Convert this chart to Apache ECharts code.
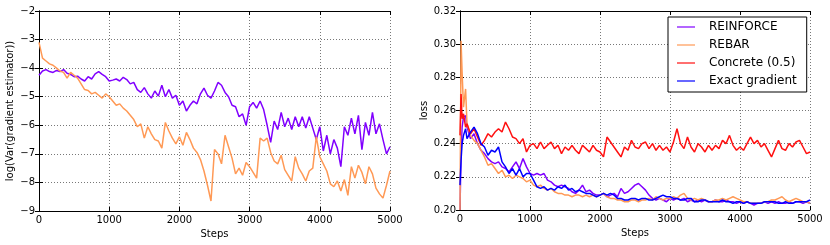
<!DOCTYPE html>
<html>
<head>
<meta charset="utf-8">
<script src="https://cdn.jsdelivr.net/npm/echarts@6/dist/echarts.min.js"></script>
<style>
html,body{margin:0;padding:0;background:#fff;}
#c{width:830px;height:245px;}
</style>
</head>
<body>
<div id="c"></div>
<script>
// ---------- Left panel: log variance of gradient estimator ----------
const stepsL = [0,50,100,150,200,250,300,350,400,450,500,550,600,650,700,750,800,850,900,950,
1000,1050,1100,1150,1200,1250,1300,1350,1400,1450,1500,1550,1600,1650,1700,1750,1800,1850,1900,1950,
2000,2050,2100,2150,2200,2250,2300,2350,2400,2450,2500,2550,2600,2650,2700,2750,2800,2850,2900,2950,
3000,3050,3100,3150,3200,3250,3300,3350,3400,3450,3500,3550,3600,3650,3700,3750,3800,3850,3900,3950,
4000,4050,4100,4150,4200,4250,4300,4350,4400,4450,4500,4550,4600,4650,4700,4750,4800,4850,4900,4950,5000];

const varReinforce = [-4.25,-4.1,-4.05,-4.12,-4.15,-4.08,-4.12,-4.05,-4.18,-4.22,-4.3,-4.28,-4.38,-4.45,-4.3,-4.38,-4.2,-4.12,-4.22,-4.3,
-4.45,-4.42,-4.38,-4.45,-4.32,-4.4,-4.55,-4.5,-4.75,-4.85,-4.68,-4.9,-5.05,-4.8,-4.98,-4.6,-5.0,-4.75,-5.05,-4.95,
-5.3,-5.15,-5.5,-5.3,-5.15,-5.25,-4.9,-4.7,-4.95,-5.05,-4.8,-4.5,-4.6,-4.85,-5.0,-5.3,-5.35,-5.7,-5.6,-6.0,
-5.35,-5.2,-5.4,-5.15,-5.45,-6.0,-6.6,-5.85,-6.15,-5.55,-6.05,-5.75,-6.15,-5.7,-6.05,-5.7,-6.1,-5.7,-6.1,-6.5,
-6.05,-6.9,-6.35,-7.0,-6.5,-6.8,-7.45,-6.05,-6.35,-5.75,-6.3,-5.65,-6.85,-5.9,-6.35,-5.55,-6.3,-5.95,-6.5,-7.0,-6.75];

const varRebar = [-3.1,-3.65,-3.75,-3.85,-3.9,-4.0,-4.1,-4.15,-4.35,-4.15,-4.25,-4.35,-4.55,-4.75,-4.78,-4.9,-4.85,-4.95,-5.05,-4.9,
-5.0,-5.15,-5.3,-5.25,-5.4,-5.5,-5.65,-5.8,-6.05,-5.95,-6.45,-6.05,-6.3,-6.5,-6.55,-6.8,-5.9,-6.2,-6.45,-6.65,
-6.4,-6.7,-6.25,-6.5,-6.8,-6.95,-7.2,-7.6,-8.1,-8.65,-6.85,-7.0,-7.35,-6.35,-6.75,-7.15,-7.7,-7.5,-7.75,-7.3,
-7.45,-7.65,-7.85,-6.45,-6.55,-6.45,-6.95,-7.25,-7.35,-7.05,-7.55,-7.75,-7.95,-7.1,-7.5,-7.7,-7.95,-7.6,-7.5,-6.4,
-7.1,-7.35,-7.6,-8.05,-8.15,-7.95,-8.3,-7.9,-8.45,-7.45,-7.85,-7.4,-7.65,-8.05,-7.45,-7.7,-8.2,-8.4,-8.55,-8.1,-7.6];

// ---------- Right panel: loss ----------
const stepsR = [0,15,30,50,80,100,150,200,250,300,350,400,450,500,550,600,650,700,750,800,850,900,950,
1000,1050,1100,1150,1200,1250,1300,1350,1400,1450,1500,1550,1600,1650,1700,1750,1800,1850,1900,1950,
2000,2050,2100,2150,2200,2250,2300,2350,2400,2450,2500,2550,2600,2650,2700,2750,2800,2850,2900,2950,
3000,3050,3100,3150,3200,3250,3300,3350,3400,3450,3500,3550,3600,3650,3700,3750,3800,3850,3900,3950,
4000,4050,4100,4150,4200,4250,4300,4350,4400,4450,4500,4550,4600,4650,4700,4750,4800,4850,4900,4950,5000];

const lossReinforce = [0.20,0.235,0.25,0.256,0.257,0.25,0.243,0.246,0.24,0.236,0.234,0.231,0.229,0.228,0.229,0.226,0.225,0.223,0.226,0.229,0.225,0.231,0.226,
0.222,0.221,0.222,0.221,0.222,0.218,0.217,0.215,0.214,0.215,0.214,0.213,0.211,0.21,0.212,0.215,0.211,0.212,0.21,0.209,
0.209,0.21,0.208,0.209,0.21,0.208,0.213,0.21,0.211,0.213,0.215,0.216,0.214,0.212,0.209,0.207,0.206,0.207,0.206,0.205,
0.207,0.206,0.207,0.206,0.207,0.205,0.206,0.205,0.206,0.205,0.206,0.205,0.205,0.206,0.205,0.205,0.206,0.205,0.205,0.204,
0.205,0.204,0.205,0.204,0.203,0.204,0.204,0.205,0.204,0.205,0.204,0.205,0.204,0.204,0.205,0.204,0.205,0.205,0.204,0.205,0.204];

const lossRebar = [0.20,0.302,0.283,0.262,0.273,0.252,0.245,0.242,0.24,0.236,0.232,0.227,0.228,0.225,0.222,0.224,0.22,0.221,0.219,0.221,0.22,0.219,0.217,
0.218,0.215,0.214,0.215,0.213,0.212,0.213,0.211,0.21,0.21,0.209,0.209,0.208,0.209,0.209,0.208,0.209,0.208,0.209,0.208,
0.209,0.21,0.208,0.207,0.207,0.206,0.206,0.205,0.205,0.206,0.206,0.205,0.206,0.206,0.207,0.206,0.208,0.207,0.206,0.207,
0.207,0.208,0.207,0.209,0.21,0.207,0.206,0.207,0.206,0.207,0.206,0.205,0.205,0.206,0.206,0.207,0.206,0.207,0.208,0.207,
0.206,0.205,0.205,0.204,0.204,0.204,0.204,0.205,0.205,0.206,0.206,0.207,0.208,0.206,0.205,0.206,0.207,0.206,0.205,0.205,0.204];

const lossConcrete = [0.245,0.27,0.255,0.258,0.25,0.252,0.246,0.249,0.244,0.239,0.242,0.246,0.244,0.247,0.249,0.247,0.253,0.249,0.244,0.243,0.24,0.243,0.235,
0.239,0.24,0.237,0.241,0.237,0.239,0.241,0.237,0.239,0.234,0.238,0.236,0.239,0.236,0.234,0.239,0.237,0.235,0.239,0.236,
0.235,0.232,0.244,0.241,0.238,0.235,0.232,0.238,0.236,0.242,0.238,0.237,0.24,0.241,0.237,0.24,0.236,0.239,0.236,0.238,
0.235,0.241,0.249,0.24,0.237,0.244,0.238,0.235,0.24,0.238,0.235,0.239,0.236,0.239,0.237,0.242,0.24,0.245,0.239,0.236,
0.238,0.236,0.24,0.244,0.24,0.242,0.238,0.24,0.236,0.232,0.237,0.242,0.237,0.236,0.24,0.238,0.241,0.242,0.238,0.234,0.235];

const lossExact = [0.215,0.23,0.24,0.245,0.249,0.243,0.247,0.25,0.246,0.24,0.238,0.233,0.236,0.235,0.238,0.229,0.226,0.222,0.225,0.221,0.225,0.22,0.222,
0.222,0.218,0.214,0.213,0.214,0.212,0.213,0.212,0.214,0.213,0.215,0.212,0.213,0.211,0.212,0.211,0.21,0.21,0.209,0.208,
0.209,0.21,0.209,0.21,0.209,0.207,0.207,0.206,0.206,0.207,0.207,0.206,0.207,0.207,0.206,0.206,0.207,0.208,0.209,0.208,
0.208,0.207,0.207,0.206,0.206,0.207,0.207,0.205,0.205,0.206,0.206,0.205,0.205,0.205,0.205,0.206,0.205,0.205,0.204,0.205,
0.205,0.204,0.205,0.204,0.204,0.204,0.204,0.205,0.205,0.205,0.205,0.204,0.204,0.205,0.204,0.204,0.205,0.205,0.205,0.205,0.206];

const seriesNames = ['REINFORCE','REBAR','Concrete (0.5)','Exact gradient'];
const colors = ['#8000ff','#ff9955','#ff1010','#0000ff'];

const FONT = 'DejaVu Sans';
const pair = (xs, ys) => ys.map((v, i) => [xs[i], v]);
const minus = v => (v < 0 ? '\u2212' + Math.abs(v) : String(v));

function axesFor(gridIndex, ymin, ymax, yint, yfmt, yname, ynameGap) {
  const base = {
    gridIndex, type: 'value',
    axisLine: {show: true, lineStyle: {color: '#000', width: 1}},
    axisTick: {show: true, inside: true, length: 4, lineStyle: {color: '#000'}},
  };
  const xs = [
    Object.assign({}, base, {
      min: 0, max: 5000, interval: 1000, position: 'bottom',
      name: 'Steps', nameLocation: 'middle', nameGap: 16,
      nameTextStyle: {fontFamily: FONT, fontSize: 10, color: '#000'},
      axisLabel: {fontFamily: FONT, fontSize: 10, color: '#000', margin: 4, formatter: v => String(v)},
      splitLine: {show: true, lineStyle: {color: '#555', type: [1, 2], width: 0.8}}
    }),
    Object.assign({}, base, {
      min: 0, max: 5000, interval: 1000, position: 'top',
      axisLabel: {show: false}, splitLine: {show: false}
    })
  ];
  const ys = [
    Object.assign({}, base, {
      min: ymin, max: ymax, interval: yint, position: 'left',
      name: yname, nameLocation: 'middle', nameGap: ynameGap, nameRotate: 90,
      nameTextStyle: {fontFamily: FONT, fontSize: 10, color: '#000'},
      axisLabel: {fontFamily: FONT, fontSize: 10, color: '#000', margin: 4, formatter: yfmt},
      splitLine: {show: true, lineStyle: {color: '#555', type: [1, 2], width: 0.8}}
    }),
    Object.assign({}, base, {
      min: ymin, max: ymax, interval: yint, position: 'right',
      axisLabel: {show: false}, splitLine: {show: false}
    })
  ];
  return {xs, ys};
}

const A = axesFor(0, -9, -2, 1, minus, 'log(Var(gradient estimator))', 24);
const B = axesFor(1, 0.20, 0.32, 0.02, v => v.toFixed(2), 'loss', 31);

function line(name, data, color, xi, yi) {
  return {
    name, type: 'line', data, xAxisIndex: xi, yAxisIndex: yi,
    showSymbol: false, symbol: 'none', smooth: false,
    lineStyle: {color, width: 1.5}, itemStyle: {color},
    animation: false, clip: true
  };
}

const option = {
  animation: false,
  backgroundColor: '#fff',
  grid: [
    {left: 39, top: 11, width: 351, height: 200, show: false},
    {left: 460, top: 11, width: 350, height: 199, show: false}
  ],
  xAxis: [...A.xs, ...B.xs],
  yAxis: [...A.ys, ...B.ys],
  legend: {
    data: seriesNames,
    orient: 'vertical', left: 668, top: 17,
    icon: 'rect', itemWidth: 18, itemHeight: 1.2, itemGap: 4,
    padding: [3, 10, 4, 9],
    borderColor: '#000', borderWidth: 1, borderRadius: 0, backgroundColor: '#fff',
    textStyle: {fontFamily: FONT, fontSize: 12, color: '#000', lineHeight: 14, padding: [0, 0, 0, 9]}
  },
  series: [
    line('REINFORCE', pair(stepsL, varReinforce), colors[0], 0, 0),
    line('REBAR', pair(stepsL, varRebar), colors[1], 0, 0),
    line('REINFORCE', pair(stepsR, lossReinforce), colors[0], 2, 2),
    line('REBAR', pair(stepsR, lossRebar), colors[1], 2, 2),
    line('Concrete (0.5)', pair(stepsR, lossConcrete), colors[2], 2, 2),
    line('Exact gradient', pair(stepsR, lossExact), colors[3], 2, 2)
  ]
};

const chart = echarts.init(document.getElementById('c'), null, {renderer: 'canvas'});
chart.setOption(option);
</script>
</body>
</html>
